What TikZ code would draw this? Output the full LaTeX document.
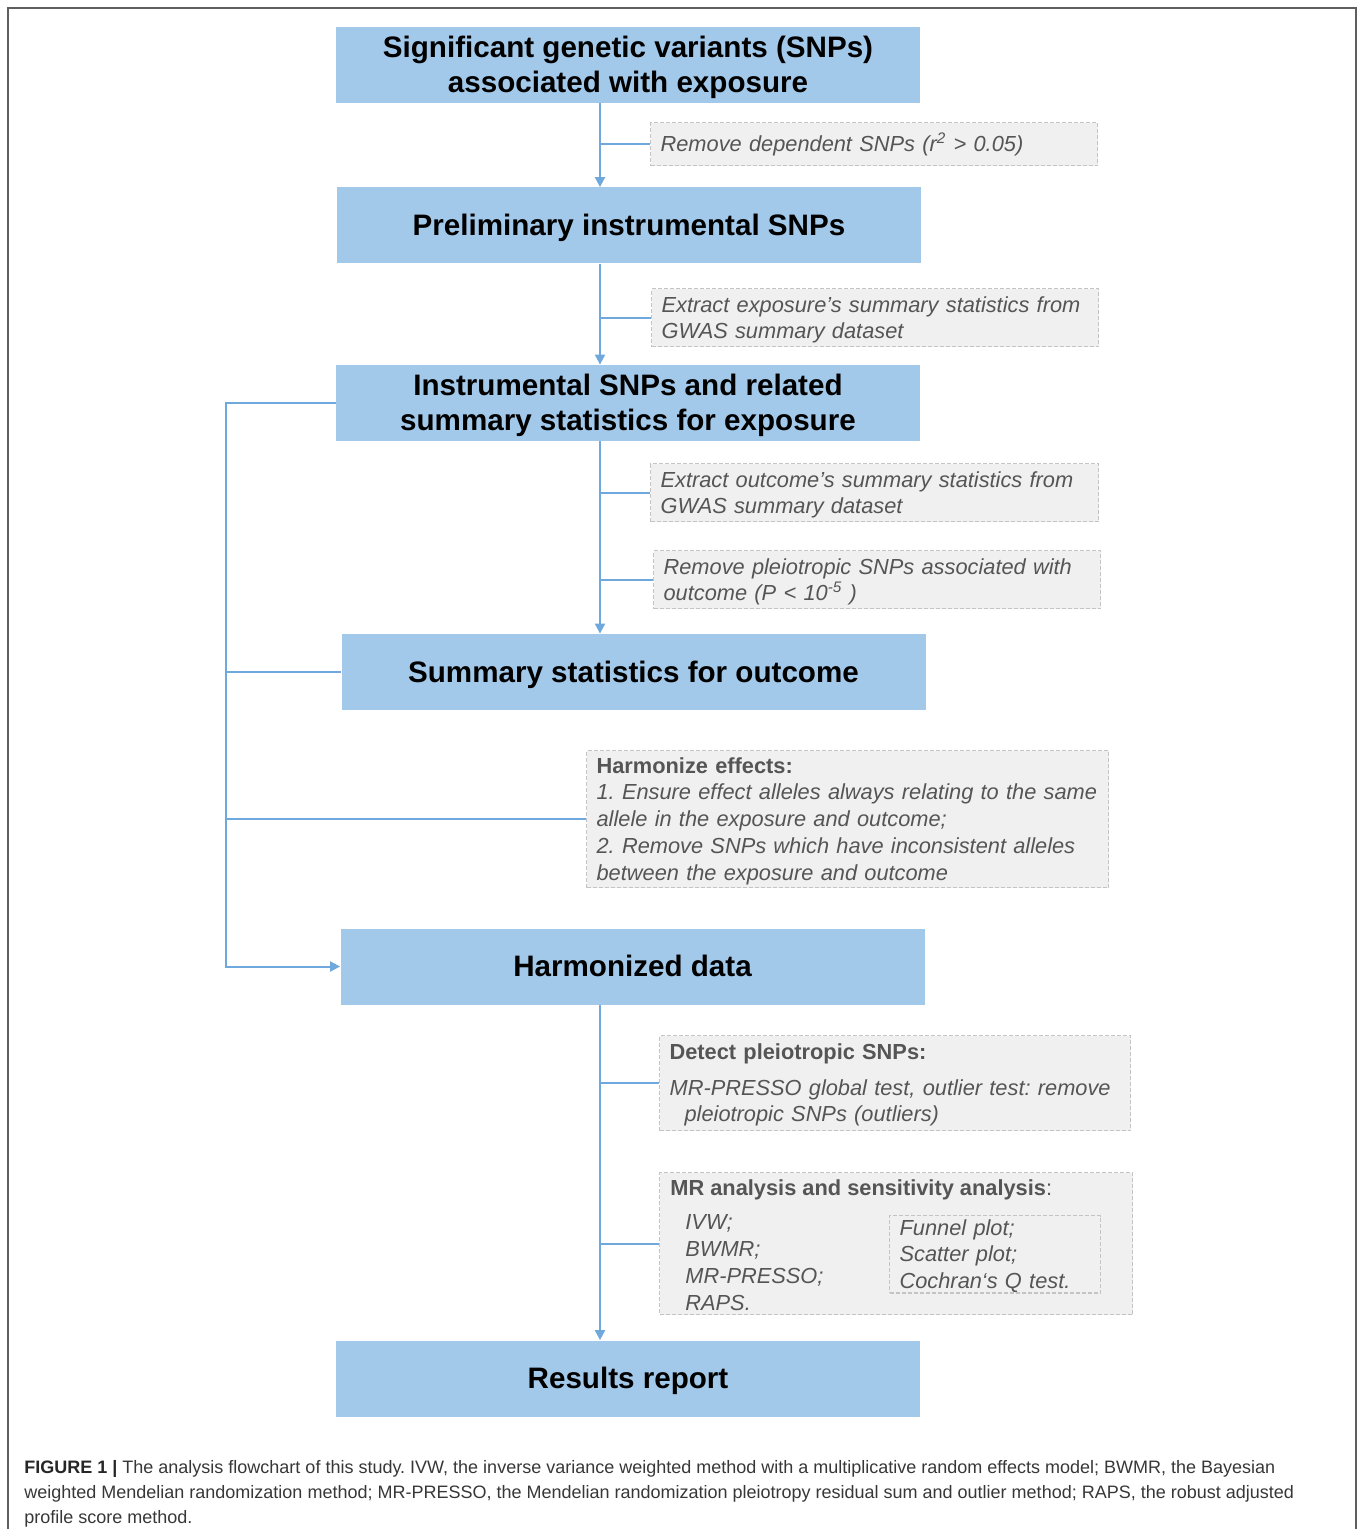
\documentclass[tikz,border=0pt]{standalone}
\usepackage{fontspec}
\setmainfont{Liberation Sans}
\usetikzlibrary{arrows.meta,calc}
\definecolor{boxblue}{RGB}{163,201,234}
\definecolor{linblue}{RGB}{111,168,220}
\definecolor{notefill}{RGB}{240,240,240}
\definecolor{notedraw}{RGB}{196,196,196}
\definecolor{notetext}{RGB}{85,85,85}
\definecolor{framegray}{RGB}{95,95,95}
\definecolor{captext}{RGB}{55,55,55}
\newcommand{\fst}{\rule[-0.212em]{0pt}{1.117em}}
\frenchspacing
\begin{document}
\begin{tikzpicture}[x=0.5pt,y=-0.5pt,
 mainbox/.style={fill=boxblue, draw=none, minimum width=292pt, minimum height=38pt, align=center,
   font=\fontsize{14.8}{17.5}\selectfont\bfseries, inner sep=0pt},
 note/.style={fill=notefill, draw=notedraw, dash pattern=on 2pt off 1pt, line width=0.6pt,
   anchor=north west, align=left, inner xsep=5pt, inner ysep=0pt,
   font=\fontsize{10.9}{13}\selectfont\itshape, text=notetext},
 link/.style={draw=linblue, line width=1pt},
 arr/.style={link, -{Triangle[length=5pt,width=5pt]}},
 captionline/.style={anchor=base west, inner sep=0pt, font=\fontsize{9}{12.5}\selectfont, text=captext}
]
\useasboundingbox (0,0) rectangle (1358,1529);
\draw[framegray, line width=1pt] (8,1529) -- (8,8) -- (1356,8) -- (1356,1529);

% main boxes
\node[mainbox] (b1) at (628,65) {\fst Significant genetic variants (SNPs)\\\fst associated with exposure};
\node[mainbox] (b2) at (629,225.5) {\fst Preliminary instrumental SNPs};
\node[mainbox] (b3) at (628,403) {\fst Instrumental SNPs and related\\\fst summary statistics for exposure};
\node[mainbox] (b4) at (633.5,672) {\fst Summary statistics for outcome};
\node[mainbox] (b6) at (632.5,966.5) {\fst Harmonized data};
\node[mainbox] (b7) at (628,1378.5) {\fst Results report};

% notes
\node[note, text width=213.5pt, minimum height=21.5pt] (n1) at (650,122)
  {\fst Remove dependent SNPs (r\textsuperscript{2} > 0.05)};
\node[note, text width=213.5pt, minimum height=29pt] (n2) at (651,288)
  {\fst Extract exposure’s summary statistics from\\\fst GWAS summary dataset};
\node[note, text width=214pt, minimum height=29pt] (n3) at (650,463)
  {\fst Extract outcome’s summary statistics from\\\fst GWAS summary dataset};
\node[note, text width=213.5pt, minimum height=29pt] (n4) at (653,550)
  {\fst Remove pleiotropic SNPs associated with\\\fst outcome (P < 10\textsuperscript{-5} )};
\node[note, text width=251pt, minimum height=68.5pt, font=\fontsize{10.9}{13.4}\selectfont\itshape] (n5) at (586,750)
  {\fst\textbf{\upshape Harmonize effects:}\\1. Ensure effect alleles always relating to the same\\allele in the exposure and outcome;\\2. Remove SNPs which have inconsistent alleles\\\fst between the exposure and outcome};
\node[note, text width=225.5pt, minimum height=47.5pt] (n6) at (659,1035)
  {\fst\textbf{\upshape Detect pleiotropic SNPs:}\\[5pt]MR-PRESSO global test, outlier test: remove\\\fst\hspace*{7.5pt}pleiotropic SNPs (outliers)};
\node[note, text width=226.5pt, minimum height=71pt] (n7) at (659,1172) {};
\node[anchor=base west, inner sep=0pt, font=\fontsize{10.9}{13}\selectfont, text=notetext] (n7t) at (670,1195)
  {\textbf{MR analysis and sensitivity analysis}:};
\node[anchor=base west, inner sep=0pt, align=left, font=\fontsize{10.9}{13.5}\selectfont\itshape, text=notetext] (n7l) at (685,1310)
  {IVW;\\BWMR;\\MR-PRESSO;\\RAPS.};
\node[note, text width=95.5pt, minimum height=37.5pt, font=\fontsize{10.9}{13.25}\selectfont\itshape] (n7r) at (889,1215)
  {\fst Funnel plot;\\Scatter plot;\\\fst Cochran‘s Q test.};

% spine
\coordinate (sp) at (600,0);
\coordinate (lb) at (226,0);
\draw[arr] (b1.south -| sp) -- (b2.north -| sp);
\draw[arr] (b2.south -| sp) -- (b3.north -| sp);
\draw[arr] (b3.south -| sp) -- (b4.north -| sp);
\draw[arr] (b6.south -| sp) -- (b7.north -| sp);
\foreach \n in {n1,n2,n3,n4,n6,n7} \draw[link] (\n.west -| sp) -- (\n.west);

% left bracket
\draw[arr] (b3.west) -- (b3.west -| lb) -- (b6.west -| lb) -- (b6.west);
\draw[link] (b4.west -| lb) -- (b4.west);
\draw[link] (n5.west -| lb) -- (n5.west);

% caption
\node[captionline] (c1) at (24,1473) {\textbf{\color{black!85}FIGURE 1 |} The analysis flowchart of this study. IVW, the inverse variance weighted method with a multiplicative random effects model; BWMR, the Bayesian};
\node[captionline] (c2) at (24,1498) {weighted Mendelian randomization method; MR-PRESSO, the Mendelian randomization pleiotropy residual sum and outlier method; RAPS, the robust adjusted};
\node[captionline] (c3) at (24,1523) {profile score method.};
\end{tikzpicture}
\end{document}
